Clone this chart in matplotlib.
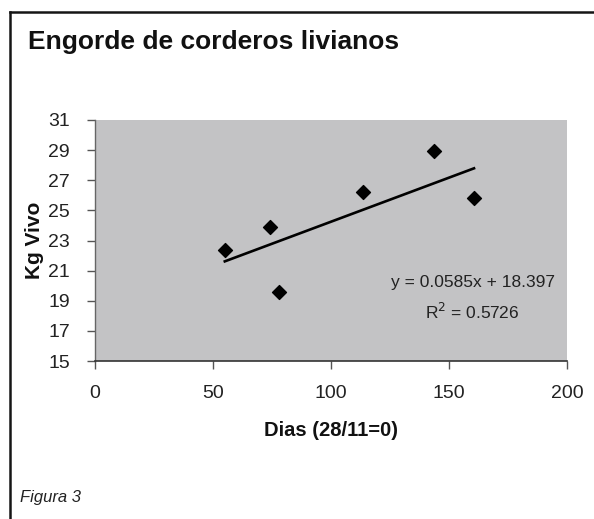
import matplotlib
matplotlib.use("Agg")
import matplotlib.pyplot as plt
from matplotlib.lines import Line2D
import numpy as np

# ---- data ----
dias = [55, 74, 78, 113.5, 143.7, 160.6]
kg_vivo = [22.35, 23.9, 19.6, 26.25, 28.95, 25.85]
slope = 0.0585
intercept = 18.397
r2 = 0.5726
x_ticks = [0, 50, 100, 150, 200]
y_ticks = [15, 17, 19, 21, 23, 25, 27, 29, 31]

title = "Engorde de corderos livianos"
xlabel = "Dias (28/11=0)"
ylabel = "Kg Vivo"
caption = "Figura 3"

plt.rcParams['font.family'] = ['Liberation Sans', 'DejaVu Sans']

W, H = 594, 519
fig = plt.figure(figsize=(W / 100, H / 100), dpi=100)
fig.patch.set_facecolor("white")

# outer frame (left and top lines)
fig.add_artist(Line2D([9.5 / W, 9.5 / W], [0, 1 - 11.5 / H], transform=fig.transFigure,
                      color="#151515", lw=1.8))
fig.add_artist(Line2D([9.5 / W, 1], [1 - 11.5 / H, 1 - 11.5 / H], transform=fig.transFigure,
                      color="#151515", lw=1.8))

ax = fig.add_axes([95 / W, 1 - 361 / H, (567 - 95) / W, (361 - 120) / H])
ax.set_facecolor("#c3c3c5")
ax.set_xlim(0, 200)
ax.set_ylim(15, 31)

ax.scatter(dias, kg_vivo, marker="D", s=50, color="black", zorder=3)
xs = np.array([min(dias), max(dias)])
ax.plot(xs, slope * xs + intercept, color="black", lw=1.9, zorder=2)

ax.text(160, 20.2, f"y = {slope}x + {intercept}", ha="center", va="center",
        fontsize=12.5, color="#222222")
ax.text(160, 18.25, f"R$^2$ = {r2}", ha="center", va="center",
        fontsize=12.5, color="#222222")

ax.set_xticks(x_ticks)
ax.set_yticks(y_ticks)
for lab in ax.get_xticklabels() + ax.get_yticklabels():
    lab.set_fontsize(14)
    lab.set_color("#222222")
ax.tick_params(axis="x", direction="out", length=6, width=1, color="#555555", pad=11)
ax.tick_params(axis="y", direction="out", length=6, width=1, color="#555555", pad=12)

for side in ["top", "right"]:
    ax.spines[side].set_visible(False)
ax.spines["left"].set_color("#666666")
ax.spines["left"].set_linewidth(1)
ax.spines["bottom"].set_color("#333333")
ax.spines["bottom"].set_linewidth(1.2)

ax.set_xlabel(xlabel, fontsize=14.5, fontweight="bold", color="#111111", labelpad=14)
ax.set_ylabel(ylabel, fontsize=15, fontweight="bold", color="#111111", labelpad=3)

fig.text(28 / W, 1 - 49 / H, title, fontsize=19, fontweight="bold", ha="left",
         va="baseline", color="#111111")
fig.text(20 / W, 1 - 502 / H, caption, fontsize=12, style="italic", ha="left",
         va="baseline", color="#222222")

fig.savefig("out.png", dpi=100)
